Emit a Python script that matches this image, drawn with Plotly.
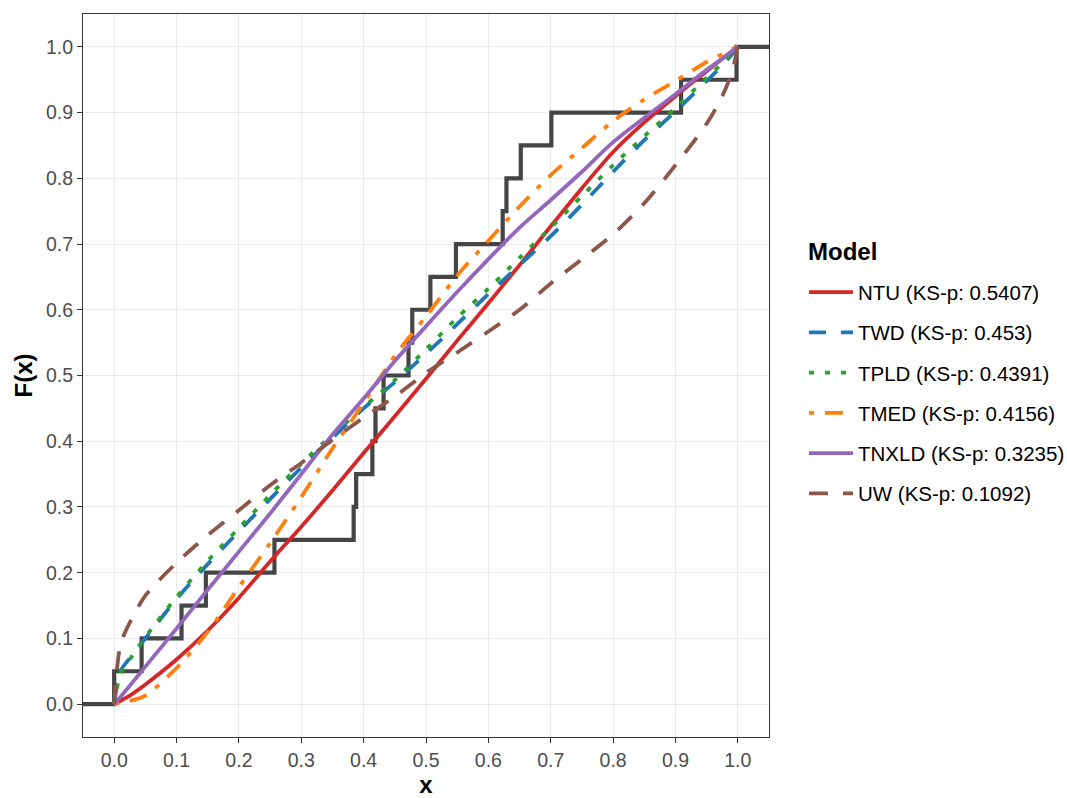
import plotly.graph_objects as go

# ---------------- data ----------------
x_grid = [0.0, 0.01, 0.025, 0.05, 0.1, 0.15, 0.2, 0.25, 0.3, 0.35, 0.4, 0.45, 0.5,
          0.55, 0.6, 0.65, 0.7, 0.75, 0.8, 0.85, 0.9, 0.95, 0.975, 0.99, 1.0]

ntu   = [0, 0.005, 0.013, 0.03, 0.068, 0.112, 0.162, 0.217, 0.27, 0.325, 0.382, 0.438, 0.495,
         0.553, 0.61, 0.668, 0.727, 0.785, 0.84, 0.885, 0.925, 0.963, 0.982, 0.993, 1.0]
twd   = [0, 0.05, 0.07, 0.10, 0.16, 0.213, 0.263, 0.312, 0.36, 0.405, 0.45, 0.49, 0.533,
         0.578, 0.624, 0.668, 0.712, 0.76, 0.81, 0.858, 0.902, 0.948, 0.972, 0.988, 1.0]
tpld  = [0, 0.045, 0.068, 0.102, 0.163, 0.218, 0.268, 0.318, 0.366, 0.41, 0.452, 0.493, 0.54,
         0.588, 0.632, 0.679, 0.725, 0.773, 0.82, 0.864, 0.907, 0.953, 0.975, 0.99, 1.0]
tmed  = [0, 0.002, 0.005, 0.013, 0.055, 0.11, 0.178, 0.245, 0.315, 0.389, 0.458, 0.53, 0.59,
         0.652, 0.705, 0.757, 0.805, 0.846, 0.887, 0.92, 0.948, 0.977, 0.989, 0.996, 1.0]
tnxld = [0, 0.011, 0.028, 0.057, 0.115, 0.174, 0.232, 0.29, 0.35, 0.41, 0.465, 0.522, 0.575,
         0.627, 0.677, 0.725, 0.767, 0.81, 0.855, 0.892, 0.928, 0.965, 0.982, 0.993, 1.0]
uw    = [0, 0.09, 0.124, 0.165, 0.215, 0.257, 0.295, 0.333, 0.367, 0.402, 0.436, 0.468, 0.504,
         0.535, 0.567, 0.6, 0.64, 0.677, 0.715, 0.762, 0.82, 0.883, 0.925, 0.96, 1.0]

model_names = ["NTU (KS-p: 0.5407)", "TWD (KS-p: 0.453)", "TPLD (KS-p: 0.4391)",
               "TMED (KS-p: 0.4156)", "TNXLD (KS-p: 0.3235)", "UW (KS-p: 0.1092)"]
model_colors = ["#D62728", "#1F77B4", "#2CA02C", "#FF7F0E", "#9467BD", "#8C564B"]
model_dashes = ["solid", "17px,15px", "5px,11px", "5px,11px,18px,11px", "solid", "19px,15px"]

# empirical CDF: sorted sample values, each step adds 1/20
sample = [0.0, 0.044, 0.108, 0.147, 0.257, 0.384, 0.388, 0.414, 0.419, 0.432,
          0.472, 0.478, 0.507, 0.548, 0.623, 0.629, 0.652, 0.701, 0.909, 0.998]

x_range = [-0.05, 1.05]
y_range = [-0.05, 1.05]
tick_vals = [0.0, 0.1, 0.2, 0.3, 0.4, 0.5, 0.6, 0.7, 0.8, 0.9, 1.0]
tick_text = ["0.0", "0.1", "0.2", "0.3", "0.4", "0.5", "0.6", "0.7", "0.8", "0.9", "1.0"]

# ---------------- figure ----------------
n = len(sample)
ecdf_x = [x_range[0]] + sample + [x_range[1]]
ecdf_y = [0.0] + [(i + 1) / n for i in range(n)] + [1.0]

fig = go.Figure()
fig.add_trace(go.Scatter(x=ecdf_x, y=ecdf_y, mode="lines", showlegend=False,
                         line=dict(color="#454545", width=4.2, shape="hv"),
                         hoverinfo="skip"))

series = [ntu, twd, tpld, tmed, tnxld, uw]
for name, ys, col, dsh in zip(model_names, series, model_colors, model_dashes):
    fig.add_trace(go.Scatter(x=x_grid, y=ys, mode="lines", name=name, legendgroup=name,
                             line=dict(color=col, width=3.8, dash=dsh,
                                       shape="spline", smoothing=0.8)))

FONT = "Liberation Sans, Arial, sans-serif"
axis_common = dict(
    showgrid=True, gridcolor="#EBEBEB", gridwidth=1.1, zeroline=False,
    showline=True, linecolor="#333333", linewidth=1.2, mirror=True,
    ticks="outside", ticklen=5, tickwidth=1.1, tickcolor="#333333",
    tickvals=tick_vals, ticktext=tick_text,
    tickfont=dict(family=FONT, size=19.5, color="#4D4D4D"),
)

fig.update_layout(
    width=1067, height=798,
    margin=dict(l=83, r=298, t=14, b=61, autoexpand=False),
    paper_bgcolor="white", plot_bgcolor="white",
    font=dict(family=FONT, color="black"),
    xaxis=dict(range=x_range, title=dict(text="<b>x</b>", font=dict(size=24), standoff=8),
               automargin=False, **axis_common),
    yaxis=dict(range=y_range, title=dict(text="<b>F(x)</b>", font=dict(size=24), standoff=6),
               automargin=False, **axis_common),
    legend=dict(
        font=dict(size=20.5, family=FONT, color="black"),
        x=1.051, xanchor="left", y=0.476, yanchor="middle",
        tracegroupgap=10.6, itemwidth=44,
        bgcolor="rgba(0,0,0,0)",
    ),
    annotations=[dict(text="<b>Model</b>", xref="paper", yref="paper",
                      x=1.054, y=0.671, xanchor="left", yanchor="middle",
                      showarrow=False, font=dict(size=24, family=FONT, color="black"))],
)

fig.write_html("out.html")
